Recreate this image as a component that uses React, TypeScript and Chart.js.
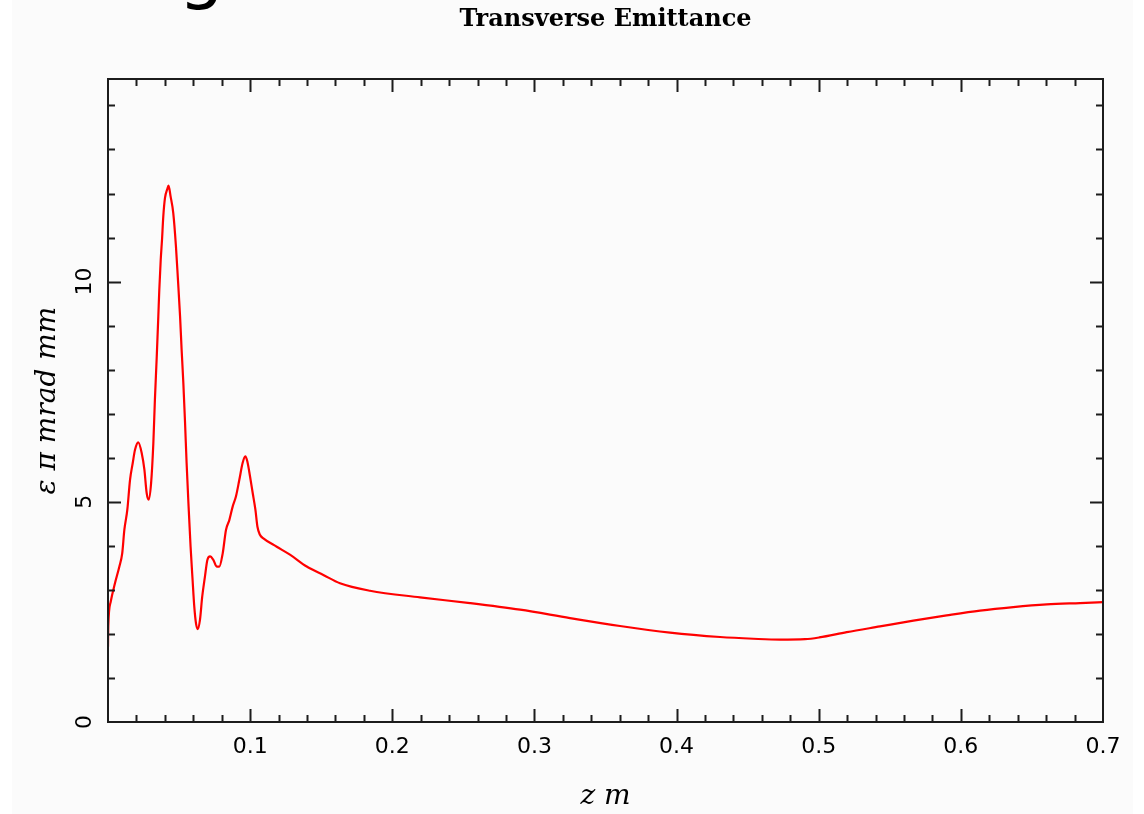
import React, { useEffect, useRef } from 'react';
import { Chart, registerables } from 'chart.js';

Chart.register(...registerables);

// z position (m)
const zValues = [
  0.0, 0.0002, 0.0019, 0.0049, 0.008, 0.01, 0.0115, 0.0136, 0.0155, 0.0174,
  0.019, 0.0213, 0.0237, 0.0256, 0.0272, 0.0286, 0.0303, 0.0319, 0.033, 0.0343,
  0.0354, 0.0361, 0.0371, 0.038, 0.0389, 0.0401, 0.0417, 0.0426, 0.044, 0.0459,
  0.0478, 0.0492, 0.0507, 0.0518, 0.053, 0.0542, 0.0553, 0.0567, 0.0581, 0.0595,
  0.0607, 0.0619, 0.0631, 0.0647, 0.0663, 0.0682, 0.0699, 0.0718, 0.0741, 0.0765,
  0.0783, 0.0807, 0.083, 0.0854, 0.0877, 0.09, 0.0924, 0.0947, 0.0966, 0.098,
  0.0999, 0.1018, 0.1037, 0.1051, 0.1069, 0.1093, 0.1187, 0.128, 0.1398, 0.1515,
  0.1632, 0.1843, 0.2195, 0.2547, 0.2899, 0.325, 0.3602, 0.3954, 0.4306, 0.454,
  0.4728, 0.4904, 0.5004, 0.5197, 0.5431, 0.5666, 0.59, 0.6135, 0.6369, 0.6604,
  0.6838, 0.7,
];

// transverse emittance (pi mrad mm)
const emittanceValues = [
  1.71, 2.17, 2.73, 3.15, 3.53, 3.83, 4.36, 4.82, 5.5, 5.88,
  6.18, 6.35, 6.11, 5.73, 5.2, 5.05, 5.42, 6.33, 7.32, 8.3,
  9.21, 9.82, 10.5, 10.95, 11.48, 11.9, 12.1, 12.18, 11.94, 11.56,
  10.8, 10.05, 9.21, 8.45, 7.7, 6.8, 5.88, 4.89, 3.98, 3.23,
  2.62, 2.24, 2.11, 2.32, 2.85, 3.3, 3.68, 3.76, 3.68, 3.53,
  3.53, 3.83, 4.36, 4.59, 4.89, 5.12, 5.5, 5.88, 6.03, 5.92,
  5.58, 5.2, 4.82, 4.44, 4.25, 4.17, 3.98, 3.8, 3.53, 3.34,
  3.15, 2.98, 2.83, 2.7, 2.55, 2.36, 2.18, 2.03, 1.93, 1.89,
  1.87, 1.88, 1.92, 2.04, 2.17, 2.3, 2.42, 2.53, 2.61, 2.67,
  2.7, 2.72,
];

const xTickValues = [0.1, 0.2, 0.3, 0.4, 0.5, 0.6, 0.7];
const xTickLabels = ['0.1', '0.2', '0.3', '0.4', '0.5', '0.6', '0.7'];
const yTickValues = [0, 5, 10];
const yTickLabels = ['0', '5', '10'];
const xMinorStep = 0.02;
const yMinorStep = 1;
const X_MIN = 0;
const X_MAX = 0.7;
const Y_MIN = 0;
const Y_MAX = 14.6;

const chartTitle = 'Transverse Emittance';
const xTitle = 'z m';
const yTitle = 'ε π mrad mm';
const pageHeading = 'Emittance growth';

const frameTicksPlugin = {
  id: 'frameTicks',
  afterDraw(chart: any) {
    const { ctx, chartArea: a, scales } = chart;
    const x = scales.x;
    const y = scales.y;
    ctx.save();
    ctx.strokeStyle = '#1c1c1c';
    ctx.lineWidth = 2;
    ctx.strokeRect(a.left, a.top, a.right - a.left, a.bottom - a.top);
    const minorLen = 7;
    const majorLen = 13;
    ctx.beginPath();
    const nx = Math.round((X_MAX - X_MIN) / xMinorStep);
    for (let i = 1; i < nx; i++) {
      const v = X_MIN + i * xMinorStep;
      const px = Math.round(x.getPixelForValue(v)) + 0.5;
      const major = xTickValues.some((t) => Math.abs(t - v) < 1e-6);
      const len = major ? majorLen : minorLen;
      ctx.moveTo(px, a.bottom);
      ctx.lineTo(px, a.bottom - len);
      ctx.moveTo(px, a.top);
      ctx.lineTo(px, a.top + len);
    }
    const ny = Math.floor((Y_MAX - Y_MIN) / yMinorStep);
    for (let i = 1; i <= ny; i++) {
      const v = Y_MIN + i * yMinorStep;
      const py = Math.round(y.getPixelForValue(v)) + 0.5;
      const major = yTickValues.some((t) => Math.abs(t - v) < 1e-6);
      const len = major ? majorLen : minorLen;
      ctx.moveTo(a.left, py);
      ctx.lineTo(a.left + len, py);
      ctx.moveTo(a.right, py);
      ctx.lineTo(a.right - len, py);
    }
    ctx.stroke();
    ctx.restore();
  },
};

export default function App() {
  const canvasRef = useRef<HTMLCanvasElement | null>(null);

  useEffect(() => {
    if (!canvasRef.current) return;
    const chart = new Chart(canvasRef.current, {
      type: 'line',
      data: {
        datasets: [
          {
            label: 'emittance',
            data: zValues.map((z, i) => ({ x: z, y: emittanceValues[i] })),
            borderColor: '#ff0000',
            borderWidth: 2.2,
            pointRadius: 0,
            fill: false,
            cubicInterpolationMode: 'monotone',
          },
        ],
      },
      options: {
        responsive: false,
        animation: false,
        layout: { padding: { left: 0, right: 41, top: 0, bottom: 0 } },
        plugins: {
          legend: { display: false },
          tooltip: { enabled: false },
          title: {
            display: true,
            fullSize: false,
            text: chartTitle,
            color: '#000',
            font: { family: 'DejaVu Serif', size: 24, weight: 'bold' },
            padding: { top: 5, bottom: 45.2 },
          },
        },
        scales: {
          x: {
            type: 'linear',
            min: X_MIN,
            max: X_MAX,
            grid: { display: false, drawTicks: false },
            border: { display: false },
            afterBuildTicks: (s: any) => {
              s.ticks = xTickValues.map((v) => ({ value: v }));
            },
            afterFit: (s: any) => {
              s.height = 92;
            },
            ticks: {
              autoSkip: false,
              minRotation: 0,
              maxRotation: 0,
              padding: 12,
              color: '#000',
              font: { family: 'DejaVu Sans', size: 22 },
              callback: (_v: any, i: number) => xTickLabels[i],
            },
            title: {
              display: true,
              text: xTitle,
              color: '#000',
              font: { family: 'DejaVu Serif', size: 28, style: 'italic' },
              padding: { top: 0, bottom: 0 },
            },
          },
          y: {
            type: 'linear',
            min: Y_MIN,
            max: Y_MAX,
            grid: { display: false, drawTicks: false },
            border: { display: false },
            afterBuildTicks: (s: any) => {
              s.ticks = yTickValues.map((v) => ({ value: v }));
            },
            afterFit: (s: any) => {
              s.width = 108;
            },
            ticks: {
              autoSkip: false,
              minRotation: 90,
              maxRotation: 90,
              crossAlign: 'center',
              padding: 9,
              color: '#000',
              font: { family: 'DejaVu Sans', size: 22 },
              callback: (_v: any, i: number) => yTickLabels[i],
            },
            title: {
              display: true,
              text: yTitle,
              color: '#000',
              font: { family: 'DejaVu Serif', size: 28, style: 'italic' },
              padding: { top: 31, bottom: 0 },
            },
          },
        },
      },
      plugins: [frameTicksPlugin],
    } as any);
    return () => chart.destroy();
  }, []);

  return (
    <div style={{ position: 'absolute', left: 0, top: 0, width: 1144, height: 814, background: '#ffffff', overflow: 'hidden' }}>
      <div style={{ position: 'absolute', left: 12, top: 0, width: 1121, height: 814, background: '#fbfbfb' }} />
      <svg width={1144} height={40} style={{ position: 'absolute', left: 0, top: 0 }}>
        <text x={-210} y={-5} fontSize={72} fontFamily="DejaVu Sans" fill="#000">
          {pageHeading}
        </text>
      </svg>
      <canvas ref={canvasRef} width={1144} height={814} style={{ position: 'absolute', left: 0, top: 0 }} />
    </div>
  );
}
